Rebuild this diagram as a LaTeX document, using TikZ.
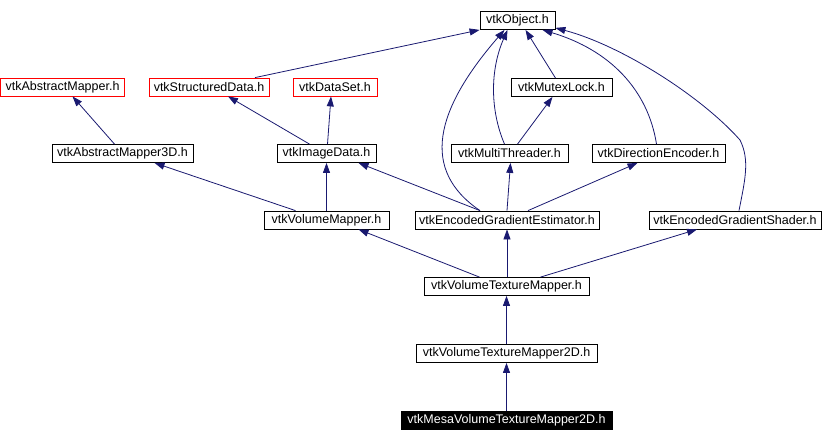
\documentclass[tikz,border=0pt]{standalone}
\usepackage{fontspec}
\setmainfont{Liberation Sans}
\usetikzlibrary{arrows.meta}
\definecolor{edgeblue}{HTML}{191970}

\tikzstyle{box} = [draw=black, line width=0.8pt, minimum height=18pt, inner sep=0pt, font=\fontsize{12.5}{14}\selectfont]
\tikzstyle{redbox} = [box, draw=red]
\tikzstyle{mainbox} = [box, fill=black, text=white]
\tikzstyle{inherit} = [draw=edgeblue, line width=0.8pt, -{Triangle[length=10pt,width=7pt]}]

\begin{document}
\begin{tikzpicture}[x=1pt, y=-1pt]
\useasboundingbox (0,0) rectangle (822,442);
\node[box, minimum width=75pt] (obj) at (517.5,20.5) {vtkObject.h};
\node[redbox, minimum width=124pt] (absmap) at (62.5,87) {vtkAbstractMapper.h};
\node[redbox, minimum width=120pt] (strdata) at (209,87) {vtkStructuredData.h};
\node[redbox, minimum width=84pt] (dataset) at (335,87) {vtkDataSet.h};
\node[box, minimum width=101pt] (mutex) at (561.5,87.5) {vtkMutexLock.h};
\node[box, minimum width=141pt] (absmap3d) at (122.5,153.5) {vtkAbstractMapper3D.h};
\node[box, minimum width=99pt] (imgdata) at (326.5,153.5) {vtkImageData.h};
\node[box, minimum width=117pt] (threader) at (509.5,153.5) {vtkMultiThreader.h};
\node[box, minimum width=133pt] (direnc) at (658.5,153.5) {vtkDirectionEncoder.h};
\node[box, minimum width=125pt] (volmap) at (326.5,220) {vtkVolumeMapper.h};
\node[box, minimum width=184pt] (gradest) at (507,220) {vtkEncodedGradientEstimator.h};
\node[box, minimum width=172pt] (gradshad) at (735,220) {vtkEncodedGradientShader.h};
\node[box, minimum width=165pt] (texmap) at (506.5,286.5) {vtkVolumeTextureMapper.h};
\node[box, minimum width=181pt] (texmap2d) at (506.5,353.5) {vtkVolumeTextureMapper2D.h};
\node[mainbox, minimum width=211pt] (mesa) at (506.5,420) {vtkMesaVolumeTextureMapper2D.h};

\draw[inherit] ([xshift=46pt]strdata.north) -- (obj.south west);
\draw[inherit] ([xshift=-8pt]absmap3d.north) -- ([xshift=10pt]absmap.south);
\draw[inherit] ([xshift=-17pt]imgdata.north) -- ([xshift=19pt]strdata.south);
\draw[inherit] ([xshift=1pt]imgdata.north) -- ([xshift=-4pt]dataset.south);
\draw[inherit] ([xshift=-6pt]mutex.north) -- ([xshift=8pt]obj.south);
\draw[inherit] ([xshift=-5pt]threader.north) .. controls (490,110) and (490,70) .. ([xshift=-10pt]obj.south);
\draw[inherit] ([xshift=8pt]threader.north) -- ([xshift=-9pt]mutex.south);
\draw[inherit] ([xshift=-2pt]direnc.north) .. controls (648,90) and (610,50) .. ([xshift=25pt]obj.south);
\draw[inherit] ([xshift=-27pt]gradest.north) .. controls (420,170) and (435,110) .. ([xshift=-13pt]obj.south);
\draw[inherit] ([xshift=4pt]gradshad.north) .. controls (745,180) and (750,160) .. (740,140)
    .. controls (700,95) and (620,45) .. ([yshift=2pt]obj.south east);
\draw[inherit] ([xshift=-27pt]gradest.north) -- ([xshift=32pt]imgdata.south);
\draw[inherit] (gradest.north) -- ([xshift=1pt]threader.south);
\draw[inherit] ([xshift=21pt]gradest.north) -- ([xshift=-21pt]direnc.south);
\draw[inherit] ([xshift=-31pt]volmap.north) -- ([xshift=32pt]absmap3d.south);
\draw[inherit] (volmap.north) -- (imgdata.south);
\draw[inherit] ([xshift=-27pt]texmap.north) -- ([xshift=32pt]volmap.south);
\draw[inherit] ([xshift=0.5pt]texmap.north) -- (gradest.south);
\draw[inherit] ([xshift=34pt]texmap.north) -- ([xshift=-38pt]gradshad.south);
\draw[inherit] (texmap2d.north) -- (texmap.south);
\draw[inherit] (mesa.north) -- (texmap2d.south);
\end{tikzpicture}
\end{document}
